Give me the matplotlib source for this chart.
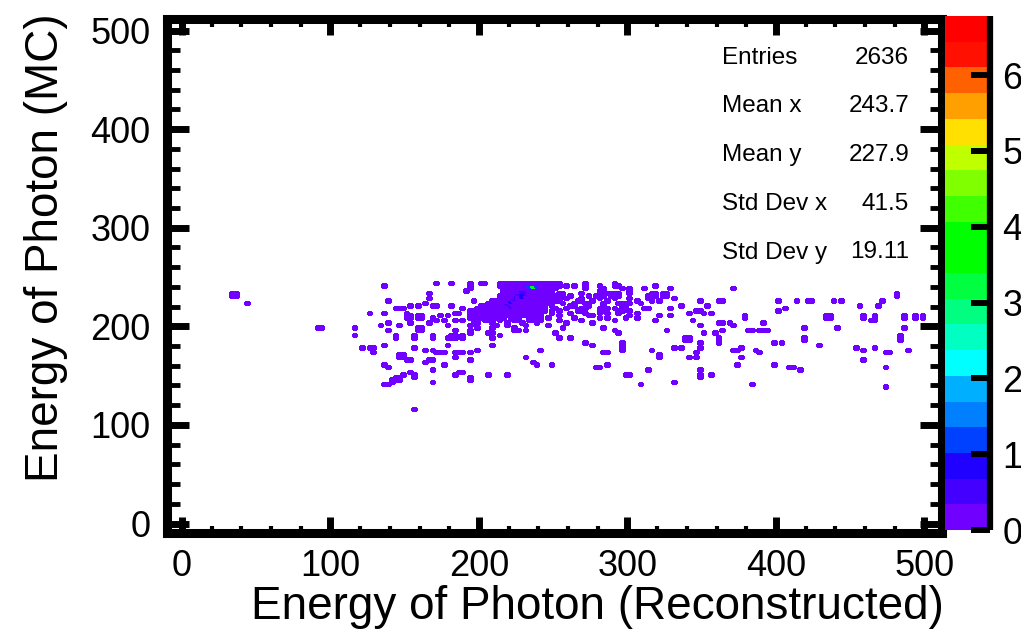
import numpy as np
import matplotlib
matplotlib.use("Agg")
import matplotlib.pyplot as plt
from matplotlib.colors import ListedColormap, Normalize

plt.rcParams['font.family'] = ['Liberation Sans', 'DejaVu Sans']

#---------------------------------------#
# DATA
#---------------------------------------#

# binning of the 2D histogram (weighted entries)
bin_width = 2.5
x_range = (0, 500)
y_range = (0, 500)
entry_weight = 0.1
z_max = 6.78

# isolated entries: reconstructed energy, MC energy
x_entries = [
    34, 36.5, 34, 36.5, 43.1, 90.5, 93,
    135.8, 171.4, 182.0, 191.8, 165.8, 165.8, 139.1, 154.0, 158.0,
    142.5, 145.8, 148.7, 164.7, 168.0, 172.0, 182.0, 188.7, 195.8,
    125.1, 135.8, 150.2, 151.9, 154.4, 151.9, 154.4, 159, 161.5, 159, 161.5,
    168.0, 174.0, 178.0, 182.5, 186.5, 175.8, 171.4, 182.9, 188.0,
    153.6, 166.9, 133.6, 137.6, 145.8, 115.8, 115.8, 139.1,
    158.6, 161.1, 158.6, 161.1, 178.0, 183.6, 181.4, 183.9, 181.4, 183.9,
    188.7, 188.7, 178.0, 142.5, 142.5, 155.4, 155.4, 168.0, 168.0,
    193.1, 194.7, 135.8, 122.0, 126.0, 128.5, 128.7, 155.4, 163.6, 168.0,
    171.4, 174.0, 176.5, 177.6, 179.1, 182.5, 186.9, 189.1, 193.6, 198.0,
    145.1, 145.1, 147.6, 147.6, 151.4, 153.6, 165.1, 164.2, 169.8, 176.9,
    182.5, 183.6, 194.7, 135.8, 139.1, 167.6, 154.7, 155.8, 155.8, 149.1,
    144.2, 146.7, 144.2, 146.7, 141.4, 140.3, 135.8, 139.1, 169.1,
    182.5, 185, 187.5, 194.7, 194.7, 205.8, 218.0, 155.4,
    223.6, 225.8, 231.3, 206.9, 209.1, 214.7, 252.4, 253.6, 262.4, 270.2,
    276.9, 283.6, 285.8, 295.8, 295.8, 231.3, 232.4, 235.8, 239.1, 240.7,
    249.3, 280.2, 286.9, 208, 208,
    311.3, 317.6, 329.8, 370.9, 313.6, 313.6, 317, 319.5, 317, 319.5,
    324.5, 327, 324.5, 327, 330.2, 306.9, 309.1, 315.8, 321.3, 335.3, 329.6,
    311.3, 313.6, 305.8, 306.9, 321.3, 328.0, 318.0, 325.3, 291.3, 293.6,
    284.2, 349.6, 354.0, 360.2, 363.6, 345.8, 349.6, 351.3, 342.4, 356.2,
    344.0, 347.6, 351.3, 358.0, 360.2, 361.3, 362.4, 363.6, 360.2, 363.6,
    369.1, 370.9, 378.0, 378.0, 380.2, 382.5, 389.1, 391.6, 394.0, 390.2,
    400.9, 400.9, 406.2, 399.1, 404.7, 339, 341.5, 339, 341.5,
    331.3, 335.3, 347.6, 347.6, 342.4, 345.8, 345.8, 372.4, 374.7, 376.2,
    386.9, 388.7, 375.8, 375.8, 374.2, 399.1, 408, 410.5, 349.1, 347.6,
    348.7, 356.2, 331.3, 382.9, 308.4, 314.0, 298.4, 300.9, 279.8,
    295.8, 295.8, 295.8, 317.3, 322.4, 322.4,
    281.3, 281.3, 281.3, 284.7, 284.7, 284.7, 284.7, 291.3, 293.6, 288,
    292.4, 294.7, 300.2, 302.4, 302.4, 296, 298.4, 300.6, 282.4, 284.7,
    286.9, 282.4, 291.3, 294.7, 297.0, 285, 292, 298,
    413.6, 421.3, 423.8, 438.0, 443.6, 456.2, 468.7, 472.4, 481.3, 481.3,
    434.5, 437, 434.5, 437, 457.6, 457.6, 466.9, 465.8, 462.5, 465,
    486.4, 486.4, 493.6, 493.6, 499.1, 499.1, 486.9, 419.1, 440.2, 419.1,
    419.1, 429.6, 454.7, 458.0, 466.9, 473.5, 476, 482.9, 482.9, 482.9,
    488.0, 459.8, 474.2, 474.2, 417.3,
]
y_entries = [
    231, 231, 233.5, 233.5, 224.7, 197.6, 197.6,
    241.2, 243.6, 243.6, 235.1, 232.8, 229.4, 227.4, 222.3, 222.3,
    219.2, 219.2, 219.2, 224.3, 222.3, 221.6, 222.3, 219.2, 227.4,
    214.2, 214.2, 214.2, 208.6, 208.6, 211.1, 211.1, 209, 209, 211.5, 211.5,
    209.8, 210.4, 211.5, 213.8, 214.8, 205.7, 205.7, 205.7, 205.7,
    203.0, 203.0, 200.3, 203.0, 200.3, 197.9, 192.2, 195.2,
    195, 195, 197.5, 197.5, 200.3, 196.2, 188.5, 188.5, 191, 191,
    187.8, 190.3, 189.5, 187.8, 190.3, 187.8, 190.3, 187.8, 190.3,
    194.6, 196.9, 181.0, 178.7, 178.7, 178.7, 173.6, 178.3, 175.3, 175.0,
    174.7, 174.7, 174.7, 180.0, 182.0, 173.3, 174.3, 174.3, 173.3, 176.0,
    168.2, 170.7, 168.2, 170.7, 165.8, 165.8, 165.8, 163.1, 165.8, 162.4,
    167.5, 169.9, 165.1, 162.4, 159.1, 156.7, 154.0, 152.3, 148.9, 151.6,
    147, 147, 149.5, 149.5, 146, 143.8, 140.5, 141.1, 143.5,
    151.6, 152.8, 154.0, 148.2, 145.7, 151.6, 151.6, 116.8,
    195.6, 195.6, 195.6, 194.6, 192.9, 191.2, 194.6, 189.5, 187.8, 184.4,
    181.0, 174.3, 174.3, 177.7, 175.3, 169.9, 167.5, 164.1, 162.4, 176.0,
    160.7, 159.1, 162.4, 181, 187.8,
    238.5, 241.2, 238.5, 238.5, 231.8, 229.3, 232, 232, 234.5, 234.5,
    231, 231, 233.5, 233.5, 228.4, 226.7, 223.3, 225.0, 227.4, 222.3, 219.2,
    219.2, 219.2, 213.1, 209.8, 210.4, 210.4, 206.4, 195.2, 196.2, 194.6,
    199.0, 227.4, 222.3, 225.0, 227.4, 216.5, 217.2, 214.8, 214.2, 214.2,
    205.7, 200.6, 192.9, 192.9, 189.5, 186.1, 184.4, 195.2, 203.7, 203.7,
    203.7, 200.6, 211.5, 208.1, 195.2, 195.2, 195.2, 195.2, 195.2, 203.0,
    225.0, 216.5, 219.2, 184.4, 184.4, 187, 187, 189.5, 189.5,
    178.7, 178.7, 184.4, 178.7, 169.9, 172.6, 168.5, 176.0, 176.0, 178.7,
    176.0, 173.3, 169.9, 167.5, 162.4, 162.4, 159.7, 159.7, 156.7, 148.9,
    151.6, 151.6, 143.2, 140.5, 140.5, 156.7, 151.6, 151.6, 159.7,
    184.4, 181.9, 179.4, 176.0, 168.5, 171,
    241.9, 232.8, 237, 237.5, 235, 232.5, 230, 241.9, 241.9, 232.8,
    232.8, 232.8, 232.8, 237.5, 235, 223.3, 223.3, 223.3, 219.7, 217,
    214.8, 214.8, 218.2, 215, 215, 208, 205, 208,
    225.0, 225.0, 225.0, 225.0, 227.4, 222.3, 222.3, 225.0, 233.4, 230.9,
    209.5, 209.5, 212, 212, 210.4, 207.9, 210.4, 207.9, 205.7, 205.7,
    210.4, 207.9, 210.4, 207.9, 210.4, 207.9, 197.9, 197.9, 197.9, 189.5,
    187, 181.7, 178.7, 176.0, 178.7, 173.3, 173.3, 191.2, 188.7, 186.1,
    176.0, 165.1, 159.7, 138.1, 157.1,
]

# dense core of the distribution, one character per 2.5 x 2.5 cell
# (number of entries), rows go down from the top edge of the core
core_x0 = 192.5
core_y_top = 245.0
core_rows = [
    "1..11...12121231322121211......1.......1....",
    "1.......121.2132bGb321211.1.1..1...1...1....",
    "1........112312212312121.......1.........1..",
    ".........212135.3221211.............1......1",
    ".........23125853212312.11....1......1.....1",
    "........1213.28321321211.1.1....1.1...1.1...",
    "........21325232121321..1.1...1....1...1...1",
    "......1212383.21.21211.11....11..1...1......",
    ".....1123253212.12.1211..1..1..11...1...1...",
    "...11213232521.21.121.1....11...1...1....11.",
    "..1211232232.212.12.1..1..1...11.....1...1..",
    "1121221322123.212.121.1.1....11....11......1",
    "12112.1221.2121.2112..1....1...1.....1..1...",
    "11211211211211211.11....1.......11.........1",
    "1211.12121.121..1111.1......1......1........",
    ".11.121.1...11..11.1....1.....1.............",
    ".11...1...1...1...1.......1......1..........",
    "1......1..1....1.....1......................",
    "..1...1.....1............1..................",
]
cell_codes = {'.': 0, '1': 1, '2': 2, '3': 3, '5': 5, '8': 8, 'b': 12, 'G': 36}

stats_names = ["Entries", "Mean x", "Mean y", "Std Dev x", "Std Dev y"]
stats_values = ["2636", "243.7", "227.9", "41.5", "19.11"]

# palette, 20 contour levels from violet to red
palette = [
    '#7000ff', '#4400ff', '#2000ff', '#0040ff', '#0080ff',
    '#00b0ff', '#00ffff', '#00ffc0', '#00ff80', '#00ff40',
    '#00ff00', '#00ff00', '#40ff00', '#80ff00', '#c0ff00',
    '#ffe000', '#ffa000', '#ff6000', '#ff1000', '#ff0000',
]

#---------------------------------------#
# FILL THE HISTOGRAM
#---------------------------------------#

xedges = np.arange(x_range[0], x_range[1] + bin_width / 2, bin_width)
yedges = np.arange(y_range[0], y_range[1] + bin_width / 2, bin_width)
counts, _, _ = np.histogram2d(x_entries, y_entries, bins=[xedges, yedges])

ix0 = int(round((core_x0 - x_range[0]) / bin_width))
iy_top = int(round((core_y_top - y_range[0]) / bin_width)) - 1
for r, row in enumerate(core_rows):
    for c, ch in enumerate(row):
        counts[ix0 + c, iy_top - r] += cell_codes[ch]

content = counts * entry_weight

#---------------------------------------#
# PLOT
#---------------------------------------#

W, H = 1021, 630
fig = plt.figure(figsize=(W / 100, H / 100), dpi=100)

# helper: pixel box -> figure fraction
def px_box(left, top, right, bottom):
    return [left / W, 1 - bottom / H, (right - left) / W, (bottom - top) / H]

ax = fig.add_axes(px_box(167, 19, 942, 532.5))
cmap = ListedColormap(palette)
norm = Normalize(vmin=0, vmax=z_max)
mesh = ax.pcolormesh(xedges, yedges, np.ma.masked_equal(content.T, 0),
                     cmap=cmap, norm=norm, edgecolors='face', linewidth=1.0)

ax.set_xlim(-10.1, 511.8)
ax.set_ylim(-9.1, 511.7)
ax.set_xticks(np.arange(0, 501, 100))
ax.set_yticks(np.arange(0, 501, 100))
ax.set_xticks(np.arange(0, 501, 20), minor=True)
ax.set_yticks(np.arange(0, 501, 20), minor=True)

for sp in ax.spines.values():
    sp.set_linewidth(6.5)
ax.tick_params(which='both', direction='in', top=True, right=True, labelsize=26)
ax.tick_params(axis='x', which='major', length=11.5, width=5, pad=12)
ax.tick_params(axis='x', which='minor', length=5.4, width=3)
ax.tick_params(axis='y', which='major', length=16, width=5, pad=12)
ax.tick_params(axis='y', which='minor', length=9, width=3.5)

fig.text(597 / W, 1 - 619 / H, "Energy of Photon (Reconstructed)", fontsize=33,
         ha='center', va='baseline')
fig.text(58 / W, 1 - 248 / H, "Energy of Photon (MC)", fontsize=33,
         rotation=90, rotation_mode='anchor', ha='center', va='baseline')

# stats box
for k, (name, val) in enumerate(zip(stats_names, stats_values)):
    yb = 1 - (63.5 + 48.75 * k) / H
    fig.text(722 / W, yb, name, fontsize=17.5, ha='left', va='baseline')
    fig.text(909 / W, yb, val, fontsize=17.5, ha='right', va='baseline')

# palette axis
cax = fig.add_axes(px_box(945, 16, 990, 530))
cb = fig.colorbar(mesh, cax=cax, ticks=np.arange(0, 7, 1))
cb.outline.set_visible(False)
cax.plot([1, 1], [0, 1], transform=cax.transAxes, color='black', lw=4.5,
         clip_on=False, solid_capstyle='butt')
cax.tick_params(direction='in', length=14, width=4.3, labelsize=26, pad=9)
cax.minorticks_off()

fig.savefig("out.png", dpi=100)
